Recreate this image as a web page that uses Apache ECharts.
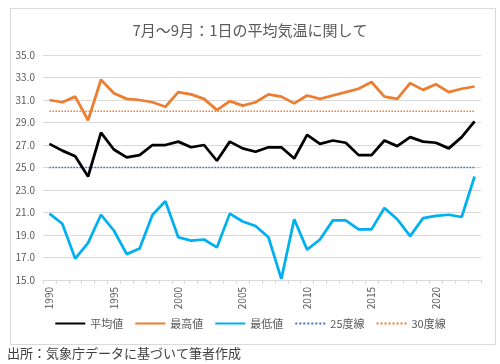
<!DOCTYPE html>
<html><head><meta charset="utf-8">
<script src="https://cdn.jsdelivr.net/npm/echarts@6/dist/echarts.min.js"></script>
<style>html,body{margin:0;padding:0;background:#fff}#c{width:500px;height:364px}</style>
</head><body><div id="c"></div>
<script>
const years = ['1990','1991','1992','1993','1994','1995','1996','1997','1998','1999','2000','2001','2002','2003','2004','2005','2006','2007','2008','2009','2010','2011','2012','2013','2014','2015','2016','2017','2018','2019','2020','2021','2022','2023'];
const avgTemp = [27.1,26.5,26.0,24.2,28.1,26.6,25.9,26.1,27.0,27.0,27.3,26.8,27.0,25.6,27.3,26.7,26.4,26.8,26.8,25.8,27.9,27.1,27.4,27.2,26.1,26.1,27.4,26.9,27.7,27.3,27.2,26.7,27.7,29.1];
const maxTemp = [31.0,30.8,31.3,29.2,32.8,31.6,31.1,31.0,30.8,30.4,31.7,31.5,31.1,30.1,30.9,30.5,30.8,31.5,31.3,30.7,31.4,31.1,31.4,31.7,32.0,32.6,31.3,31.1,32.5,31.9,32.4,31.7,32.0,32.2];
const minTemp = [20.9,20.0,16.9,18.3,20.8,19.4,17.3,17.8,20.8,22.0,18.8,18.5,18.6,17.9,20.9,20.2,19.8,18.8,15.1,20.4,17.7,18.6,20.3,20.3,19.5,19.5,21.4,20.4,18.9,20.5,20.7,20.8,20.6,24.2];
const line25 = [25,25,25,25,25,25,25,25,25,25,25,25,25,25,25,25,25,25,25,25,25,25,25,25,25,25,25,25,25,25,25,25,25,25];
const line30 = [30,30,30,30,30,30,30,30,30,30,30,30,30,30,30,30,30,30,30,30,30,30,30,30,30,30,30,30,30,30,30,30,30,30];
const yTicks = {min: 15, max: 35, interval: 2};

const chart = echarts.init(document.getElementById('c'), null, {renderer: 'canvas'});
const font = '"Noto Sans CJK JP", "Noto Sans", sans-serif';
function mk(name, data, color, width, type) {
  return {name, type: 'line', data, symbol: 'none', smooth: false,
    lineStyle: {color, width, type}, itemStyle: {color}, emphasis: {disabled: true}, z: type === 'solid' ? 3 : 2};
}
chart.setOption({
  animation: false,
  backgroundColor: '#fff',
  textStyle: {fontFamily: font},
  title: {text: '7月～9月：1日の平均気温に関して', left: 'center', top: 18,
    textStyle: {fontSize: 15, fontWeight: 'normal', color: '#595959', fontFamily: font}},
  grid: {left: 43, right: 19, top: 55, bottom: 84, containLabel: false},
  legend: {bottom: 30, left: 'center', itemWidth: 30, itemHeight: 10, itemGap: 11,
    itemStyle: {opacity: 0},
    textStyle: {fontSize: 11, color: '#595959', fontFamily: font},
    data: ['平均値','最高値','最低値','25度線','30度線']},
  xAxis: {type: 'category', data: years, boundaryGap: true,
    axisLine: {lineStyle: {color: '#d9d9d9'}},
    axisTick: {show: true, interval: 0, length: 4, lineStyle: {color: '#d9d9d9'}},
    axisLabel: {interval: 4, rotate: 90, fontSize: 10, color: '#595959', margin: 7, fontFamily: font}},
  yAxis: {type: 'value', min: yTicks.min, max: yTicks.max, interval: yTicks.interval,
    axisLine: {show: false}, axisTick: {show: false},
    splitLine: {lineStyle: {color: '#d9d9d9', width: 1}},
    axisLabel: {formatter: v => v.toFixed(1), fontSize: 10, color: '#595959', margin: 8, fontFamily: font}},
  series: [
    mk('平均値', avgTemp, '#000000', 2.75, 'solid'),
    mk('最高値', maxTemp, '#ED7D31', 2.75, 'solid'),
    mk('最低値', minTemp, '#00B0F0', 2.75, 'solid'),
    mk('25度線', line25, '#4472C4', 1.5, 'dotted'),
    mk('30度線', line30, '#ED7D31', 1.5, 'dotted')
  ],
  graphic: [
    {type: 'rect', left: 8, top: 6, shape: {width: 485, height: 336}, silent: true, z: -1,
      style: {fill: 'none', stroke: '#d9d9d9', lineWidth: 1}},
    {type: 'text', left: 7, top: 347, silent: true,
      style: {text: '出所：気象庁データに基づいて筆者作成', fontSize: 13, fill: '#404040', fontFamily: font}}
  ]
});
</script></body></html>
